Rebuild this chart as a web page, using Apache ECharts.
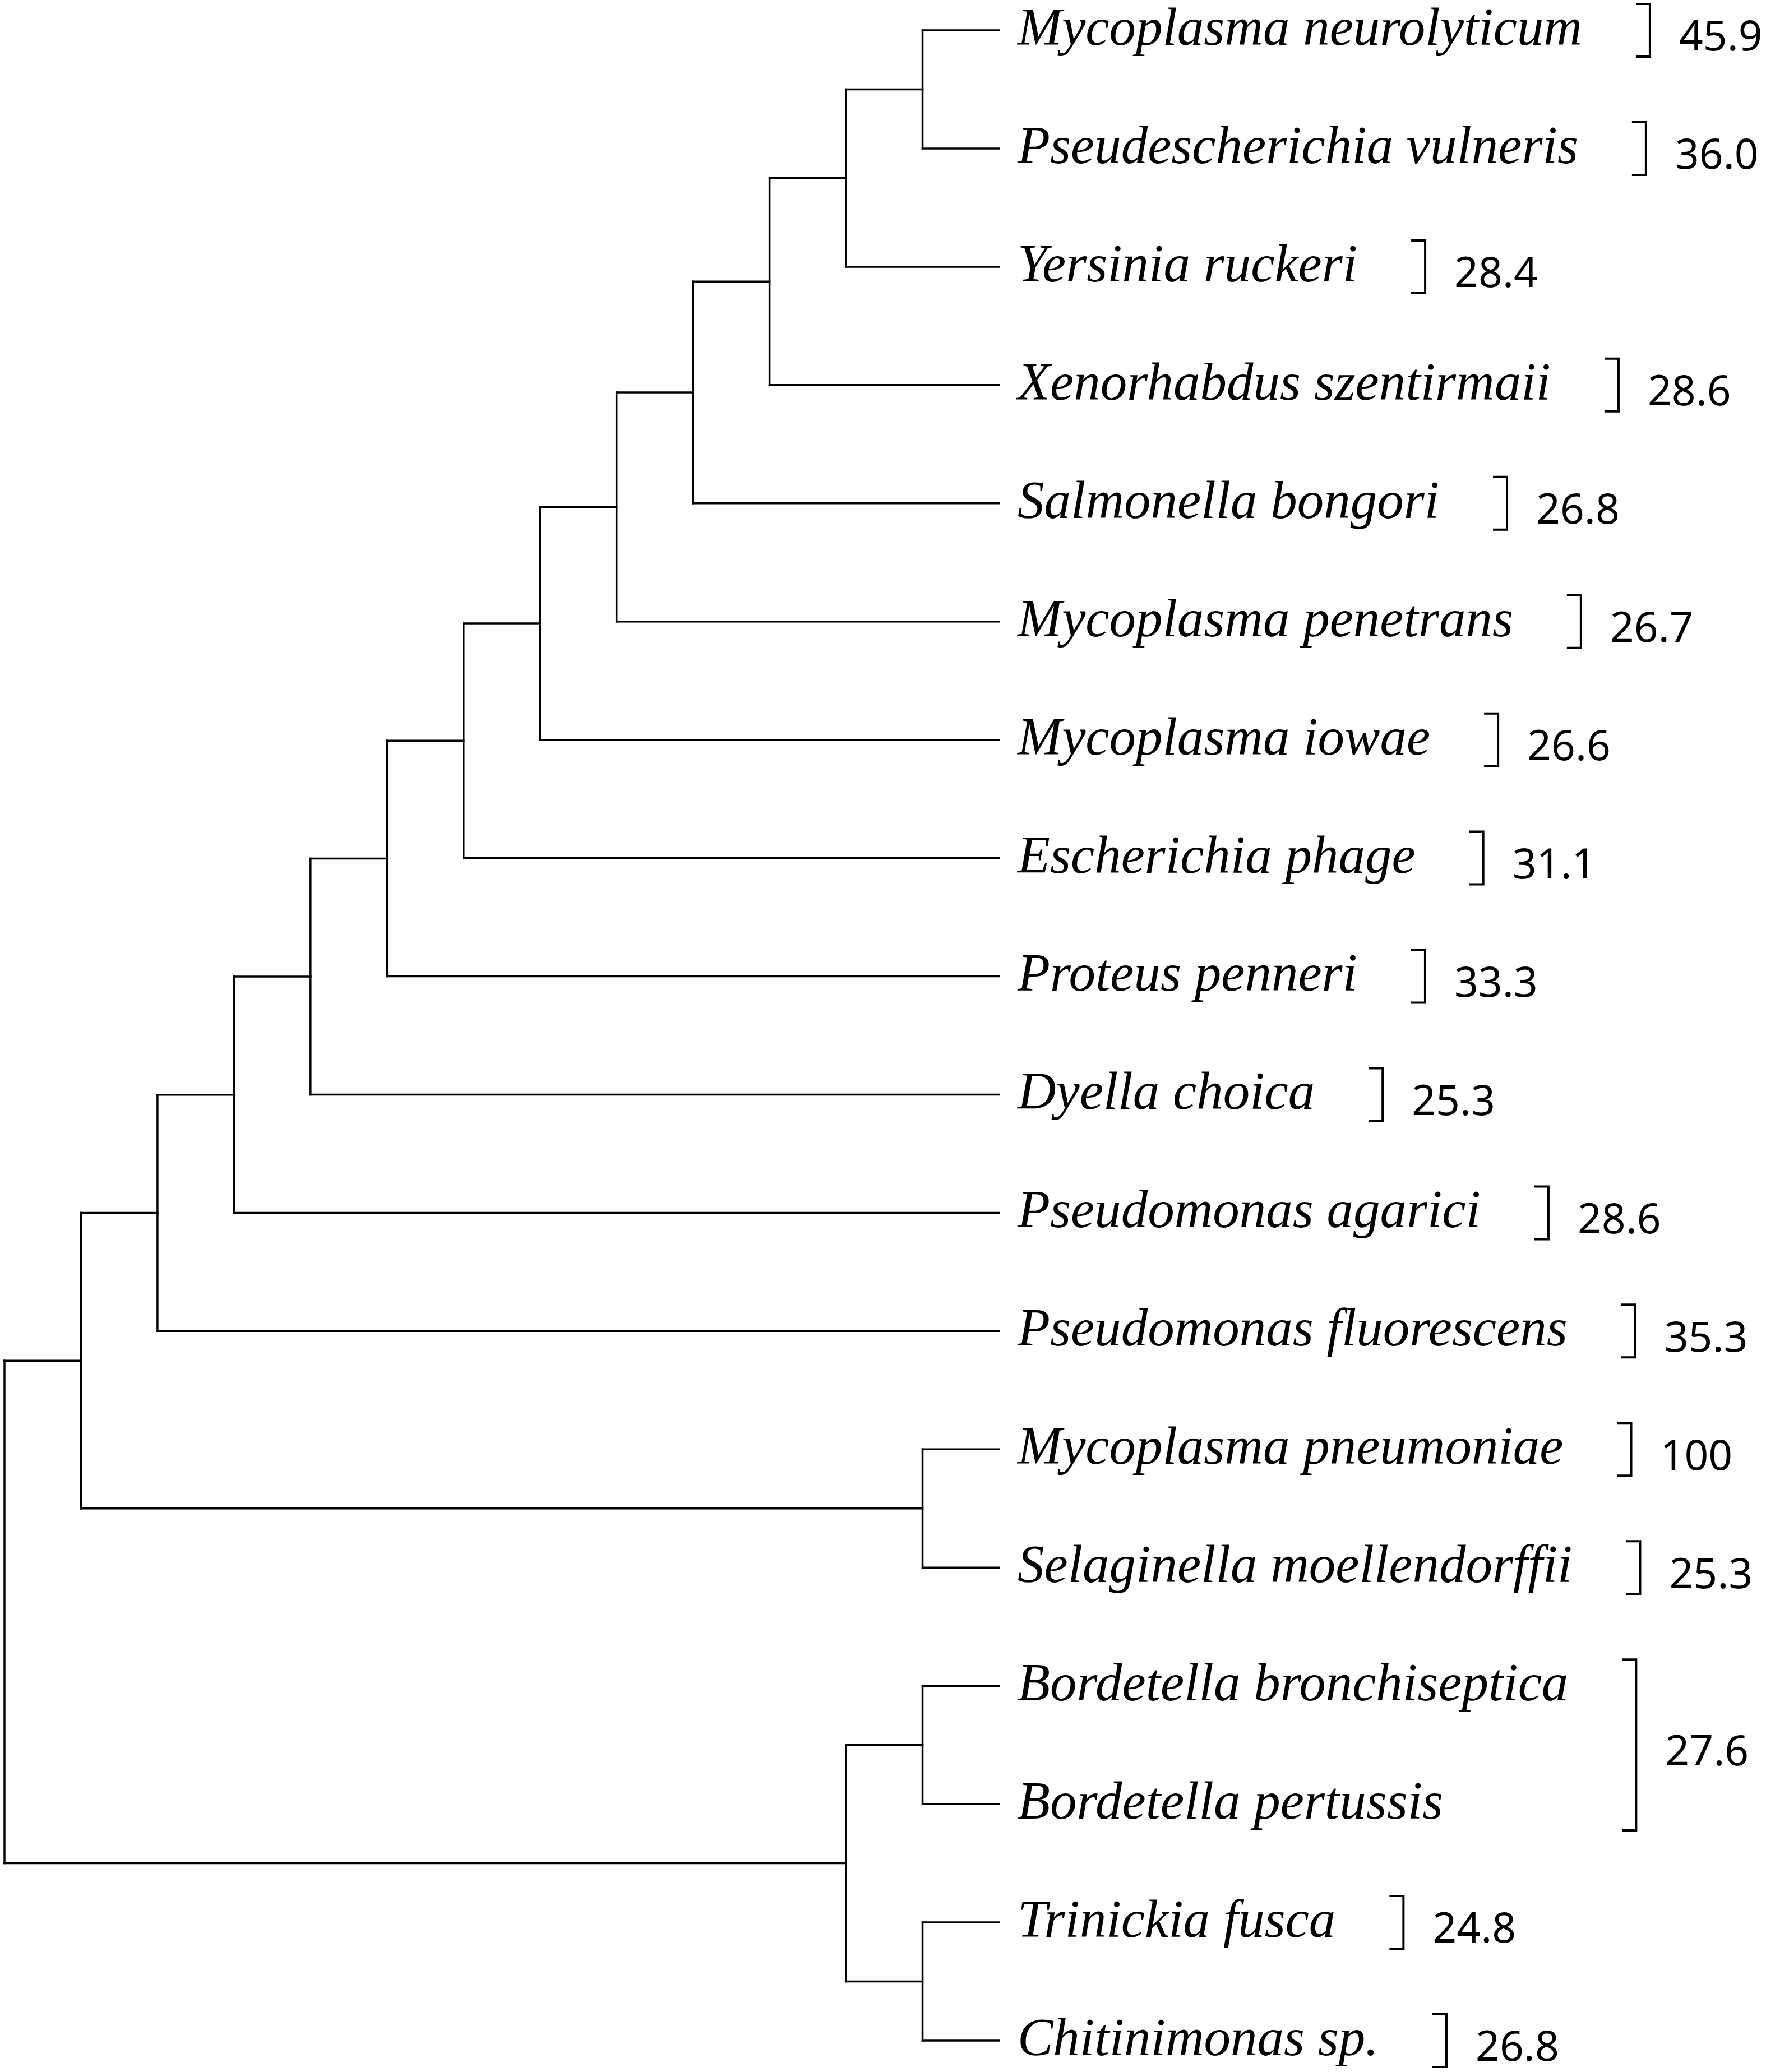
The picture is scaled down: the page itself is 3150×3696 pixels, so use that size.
<!DOCTYPE html>
<html>
<head>
<meta charset="utf-8">
<script src="https://cdn.jsdelivr.net/npm/echarts@6/dist/echarts.min.js"></script>
<style>
  html, body { margin: 0; padding: 0; background: #fff; }
  #tree { width: 3150px; height: 3696px; }
</style>
</head>
<body>
<div id="tree"></div>
<script>
// leaves, top to bottom
var leafNames = [
  'Mycoplasma neurolyticum', 'Pseudescherichia vulneris', 'Yersinia ruckeri',
  'Xenorhabdus szentirmaii', 'Salmonella bongori', 'Mycoplasma penetrans',
  'Mycoplasma iowae', 'Escherichia phage', 'Proteus penneri', 'Dyella choica',
  'Pseudomonas agarici', 'Pseudomonas fluorescens', 'Mycoplasma pneumoniae',
  'Selaginella moellendorffii', 'Bordetella bronchiseptica', 'Bordetella pertussis',
  'Trinickia fusca', 'Chitinimonas sp.'
];

// bracket groups: first leaf, last leaf, value
var groupFirst  = [0, 1, 2, 3, 4, 5, 6, 7, 8, 9, 10, 11, 12, 13, 14, 16, 17];
var groupLast   = [0, 1, 2, 3, 4, 5, 6, 7, 8, 9, 10, 11, 12, 13, 15, 16, 17];
var groupValues = ['45.9', '36.0', '28.4', '28.6', '26.8', '26.7', '26.6', '31.1', '33.3',
                   '25.3', '28.6', '35.3', '100', '25.3', '27.6', '24.8', '26.8'];

// tree: internal node = [level, childA, childB], leaf = leaf index
var leafLevel = 13;
var n1  = [12, 0, 1];
var n2  = [11, n1, 2];
var n3  = [10, n2, 3];
var n4  = [9, n3, 4];
var n5  = [8, n4, 5];
var n6  = [7, n5, 6];
var n7  = [6, n6, 7];
var n8  = [5, n7, 8];
var n9  = [4, n8, 9];
var n10 = [3, n9, 10];
var n11 = [2, n10, 11];
var n12 = [1, n11, [12, 12, 13]];
var tree = [0, n12, [11, [12, 14, 15], [12, 16, 17]]];

// elbow segments [x1, y1, x2, y2] in tree units
var segments = [];
function walk(node) {
  if (typeof node === 'number') return node;
  var lvl = node[0];
  var ys = [];
  for (var i = 1; i < node.length; i++) {
    var c = node[i];
    var yc = walk(c);
    var xc = typeof c === 'number' ? leafLevel : c[0];
    segments.push([lvl, yc, xc, yc]);
    ys.push(yc);
  }
  segments.push([lvl, Math.min.apply(null, ys), lvl, Math.max.apply(null, ys)]);
  return (Math.min.apply(null, ys) + Math.max.apply(null, ys)) / 2;
}
walk(tree);

var nameFont = 'italic 95px "Liberation Serif"';
var valueFont = '75px "Noto Sans"';
var ctx = document.createElement('canvas').getContext('2d');
ctx.font = nameFont;
var nameWidth = leafNames.map(function (n) { return ctx.measureText(n).width; });

var chart = echarts.init(document.getElementById('tree'));

chart.setOption({
  animation: false,
  backgroundColor: '#fff',
  grid: { left: 8, right: 1368, top: 54, bottom: 56 },
  xAxis: { type: 'value', min: 0, max: leafLevel, show: false },
  yAxis: { type: 'value', min: 0, max: leafNames.length - 1, inverse: true, show: false },
  series: [
    {
      type: 'custom',
      data: segments,
      renderItem: function (params, api) {
        var p1 = api.coord([api.value(0), api.value(1)]);
        var p2 = api.coord([api.value(2), api.value(3)]);
        return {
          type: 'line',
          shape: { x1: p1[0], y1: p1[1], x2: p2[0], y2: p2[1] },
          style: { stroke: '#000', lineWidth: 3.5, lineCap: 'square' }
        };
      }
    },
    {
      type: 'custom',
      data: leafNames.map(function (n, i) { return [leafLevel, i]; }),
      renderItem: function (params, api) {
        var p = api.coord([api.value(0), api.value(1)]);
        return {
          type: 'text',
          style: {
            x: p[0] + 33, y: p[1] + 1,
            text: leafNames[params.dataIndex],
            font: nameFont, fill: '#000',
            align: 'left', verticalAlign: 'middle'
          }
        };
      }
    },
    {
      type: 'custom',
      data: groupFirst.map(function (f, i) { return [leafLevel, f, groupLast[i]]; }),
      renderItem: function (params, api) {
        var i = params.dataIndex;
        var top = api.coord([api.value(0), api.value(1)]);
        var bot = api.coord([api.value(0), api.value(2)]);
        var w = 0;
        for (var k = groupFirst[i]; k <= groupLast[i]; k++) w = Math.max(w, nameWidth[k]);
        var bx = top[0] + 33 + w + 121;
        var y1 = top[1] - 47, y2 = bot[1] + 47;
        return {
          type: 'group',
          children: [
            {
              type: 'polyline',
              shape: { points: [[bx - 25, y1], [bx, y1], [bx, y2], [bx - 25, y2]] },
              style: { stroke: '#000', lineWidth: 4, fill: null }
            },
            {
              type: 'text',
              style: {
                x: bx + 52, y: (top[1] + bot[1]) / 2 + 15,
                text: groupValues[i],
                font: valueFont, fill: '#000',
                align: 'left', verticalAlign: 'middle'
              }
            }
          ]
        };
      }
    }
  ]
});
</script>
</body>
</html>
